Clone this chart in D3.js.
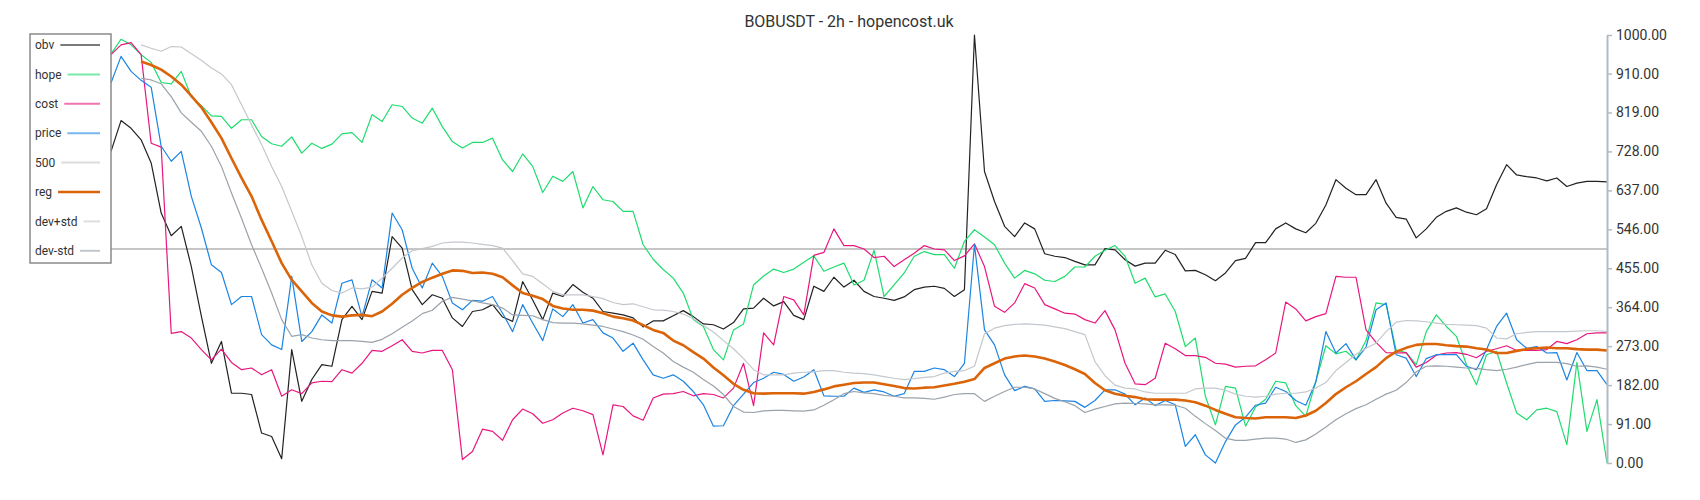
<!DOCTYPE html>
<html>
<head>
<meta charset="utf-8">
<script src="https://cdn.jsdelivr.net/npm/d3@7"></script>
<style>
    body { margin: 0; background: #fff; }
    #chart text { font-family: Roboto, "Noto Sans", sans-serif; }
</style>
</head>
<body>
<div id="chart"></div>
<script>
var title = 'BOBUSDT - 2h - hopencost.uk';

var obv = [728, 800, 782, 755, 701, 584, 531, 553, 459, 343, 233, 284, 163, 163, 160, 70, 62, 10, 265, 144, 195, 230, 226, 335, 366,
    335, 401, 397, 529, 502, 405, 370, 393, 385, 339, 319, 354, 358, 370, 341, 331, 424, 381, 335, 397, 389, 417, 399, 385, 354,
    350, 346, 339, 318, 332, 332, 344, 356, 342, 325, 323, 313, 328, 360, 362, 385, 367, 377, 345, 335, 413, 401, 434, 411, 427,
    401, 389, 385, 380, 388, 405, 411, 413, 408, 389, 405, 1000, 681, 611, 553, 529, 561, 547, 489, 483, 480, 471, 463, 463, 501,
    498, 475, 460, 467, 467, 497, 487, 449, 450, 440, 426, 444, 473, 478, 515, 515, 547, 561, 547, 538, 560, 603, 662, 642, 627,
    627, 662, 607, 574, 570, 526, 547, 574, 588, 596, 586, 580, 594, 650, 697, 673, 669, 666, 659, 666, 646, 654, 658, 658, 657];

var hope = [956, 990, 977, 954, 936, 889, 886, 915, 855, 835, 811, 810, 782, 802, 802, 763, 746, 740, 762, 724, 747, 735, 745, 769, 772,
    749, 814, 798, 837, 833, 806, 794, 829, 786, 751, 736, 749, 749, 759, 708, 681, 722, 693, 632, 670, 658, 681, 596, 646, 615,
    611, 588, 588, 510, 476, 452, 432, 397, 335, 319, 265, 241, 311, 325, 416, 437, 453, 445, 453, 469, 484, 448, 458, 467, 416,
    427, 497, 389, 416, 444, 483, 494, 487, 487, 455, 518, 545, 528, 510, 467, 432, 450, 442, 427, 424, 436, 458, 458, 483, 497,
    508, 483, 420, 432, 388, 395, 354, 272, 292, 156, 89, 179, 175, 86, 131, 149, 191, 187, 134, 109, 191, 274, 255, 261, 241,
    286, 374, 370, 264, 258, 230, 307, 346, 319, 296, 230, 183, 253, 261, 187, 117, 101, 124, 128, 120, 43, 235, 74, 148, 0];

var cost = [954, 977, 982, 954, 747, 738, 303, 307, 292, 265, 241, 266, 235, 218, 222, 206, 218, 156, 171, 162, 187, 191, 190, 218, 210,
    233, 263, 261, 274, 288, 261, 257, 263, 263, 218, 8, 27, 79, 74, 53, 101, 126, 115, 93, 101, 117, 128, 122, 113, 19,
    136, 132, 110, 100, 152, 161, 162, 167, 157, 162, 160, 152, 175, 233, 134, 304, 276, 389, 381, 346, 485, 492, 547, 508, 508,
    500, 480, 483, 459, 475, 490, 508, 500, 498, 473, 484, 512, 459, 366, 352, 374, 419, 409, 370, 360, 350, 348, 335, 327, 356,
    311, 233, 185, 183, 198, 280, 267, 251, 251, 247, 233, 231, 224, 226, 227, 241, 257, 376, 360, 332, 342, 349, 436, 434, 434,
    311, 282, 258, 257, 258, 224, 235, 252, 257, 258, 254, 246, 261, 267, 274, 263, 263, 263, 265, 284, 279, 288, 302, 304, 304];

var price = [888, 950, 915, 894, 878, 740, 705, 728, 623, 549, 463, 445, 370, 389, 389, 300, 276, 265, 436, 284, 307, 346, 327, 420, 428,
    342, 428, 409, 584, 545, 455, 409, 467, 436, 374, 358, 380, 378, 389, 350, 307, 370, 327, 286, 360, 342, 370, 327, 335, 304,
    292, 261, 280, 241, 206, 198, 206, 191, 167, 136, 86, 87, 134, 161, 188, 198, 212, 207, 191, 201, 218, 157, 156, 156, 175,
    165, 171, 166, 156, 162, 214, 214, 222, 218, 202, 233, 510, 311, 276, 206, 169, 179, 173, 144, 146, 145, 144, 130, 146, 171,
    171, 161, 136, 152, 134, 146, 136, 39, 66, 19, 0, 50, 89, 107, 135, 140, 177, 167, 146, 135, 189, 307, 257, 279, 241,
    271, 358, 374, 253, 245, 202, 244, 253, 253, 253, 226, 218, 265, 319, 350, 288, 268, 272, 257, 258, 194, 258, 216, 216, 183];

var reg = [null, null, null, 938, 930, 919, 903, 884, 858, 831, 796, 759, 712, 666, 623, 568, 518, 467, 428, 401, 374, 354, 345, 342, 345,
    346, 343, 354, 372, 393, 409, 423, 433, 442, 450, 449, 444, 445, 442, 434, 415, 397, 391, 383, 367, 361, 358, 358, 356, 350,
    342, 338, 333, 322, 311, 304, 286, 275, 259, 244, 223, 205, 185, 171, 163, 162, 163, 163, 163, 162, 166, 172, 179, 183, 187,
    188, 188, 184, 180, 175, 174, 176, 177, 181, 185, 190, 196, 222, 233, 244, 249, 251, 249, 244, 237, 229, 219, 208, 187, 170,
    162, 157, 154, 149, 148, 148, 148, 146, 142, 134, 124, 115, 107, 105, 104, 107, 107, 107, 105, 111, 122, 140, 161, 177, 191,
    208, 224, 245, 260, 269, 276, 278, 278, 275, 273, 272, 268, 265, 257, 257, 262, 266, 268, 270, 268, 268, 266, 265, 265, 263];

var devPlus = [null, null, null, 977, 969, 962, 973, 972, 956, 941, 923, 909, 884, 837, 790, 744, 693, 646, 588, 529, 463, 420, 403, 397, 409,
    407, 411, 432, 455, 479, 496, 501, 506, 514, 516, 516, 514, 511, 508, 502, 473, 442, 436, 419, 401, 393, 393, 393, 389, 384,
    375, 370, 372, 365, 358, 357, 354, 348, 337, 321, 306, 286, 267, 244, 218, 206, 206, 206, 210, 212, 213, 216, 216, 212, 210,
    209, 206, 202, 198, 195, 197, 200, 202, 210, 214, 216, 226, 302, 315, 321, 324, 325, 324, 322, 318, 314, 307, 300, 237, 204,
    182, 175, 173, 166, 163, 163, 163, 163, 173, 175, 175, 170, 161, 156, 154, 156, 161, 163, 163, 166, 175, 188, 216, 235, 254,
    268, 280, 307, 329, 333, 332, 330, 327, 324, 323, 322, 321, 315, 292, 290, 302, 305, 307, 307, 307, 307, 308, 309, 309, 307];

var devMinus = [null, null, null, 899, 895, 886, 856, 818, 796, 775, 740, 693, 631, 572, 510, 455, 397, 335, 296, 300, 292, 288, 286, 286, 286,
    284, 282, 289, 302, 317, 332, 349, 357, 378, 387, 383, 379, 374, 370, 362, 346, 345, 344, 335, 328, 327, 327, 325, 322, 319,
    313, 307, 299, 289, 272, 257, 237, 224, 212, 195, 180, 160, 132, 119, 118, 122, 123, 123, 122, 121, 124, 135, 148, 162, 167,
    164, 162, 158, 156, 152, 152, 151, 149, 154, 160, 162, 162, 144, 156, 167, 177, 177, 173, 162, 151, 143, 134, 118, 126, 132,
    138, 140, 139, 138, 136, 136, 135, 128, 109, 92, 76, 58, 53, 53, 56, 58, 58, 56, 48, 54, 68, 84, 101, 115, 127,
    136, 149, 161, 170, 188, 213, 226, 227, 226, 224, 222, 221, 218, 216, 219, 224, 230, 235, 235, 235, 232, 226, 227, 224, 219];

var level = 500;
var yTicks = [0, 91, 182, 273, 364, 455, 546, 637, 728, 819, 910, 1000];

var series = [
    { name: 'obv', values: obv, color: '#222222', width: 1.2 },
    { name: 'hope', values: hope, color: '#1fdc6e', width: 1.2 },
    { name: 'cost', values: cost, color: '#e8177f', width: 1.2 },
    { name: 'price', values: price, color: '#1c84e2', width: 1.2 },
    { name: '500', values: null, color: '#c6c6c6', width: 2 },
    { name: 'reg', values: reg, color: '#db6408', width: 2.6 },
    { name: 'dev+std', values: devPlus, color: '#c3c8cd', width: 1.2 },
    { name: 'dev-std', values: devMinus, color: '#9aa2aa', width: 1.2 },
];

drawChart('#chart');

function drawChart(selector) {
    let width = 1700;
    let height = 500;

    let svg = d3
        .select(selector)
        .append('svg')
        .attr('width', width)
        .attr('height', height);

    let x = d3.scaleLinear().domain([0, obv.length - 1]).range([111, 1607]);
    let y = d3.scaleLinear().domain([0, 1000]).range([463, 35]);

    svg.append('text')
        .attr('x', 849)
        .attr('y', 27)
        .attr('text-anchor', 'middle')
        .style('font-size', '16px')
        .attr('fill', '#333')
        .text(title);

    // level line first so the series sit over it
    svg.append('line')
        .attr('x1', x(0))
        .attr('x2', x(obv.length - 1))
        .attr('y1', y(level))
        .attr('y2', y(level))
        .attr('stroke', '#c6c6c6')
        .attr('stroke-width', 2);

    let line = d3
        .line()
        .defined(function(d) { return d != null; })
        .x(function(d, i) { return x(i); })
        .y(function(d) { return y(d); });

    series.forEach(function(s) {
        if (!s.values) return;
        svg.append('path')
            .datum(s.values)
            .attr('fill', 'none')
            .attr('stroke', s.color)
            .attr('stroke-width', s.width)
            .attr('stroke-linejoin', 'round')
            .attr('d', line);
    });

    let axis = svg
        .append('g')
        .attr('transform', 'translate(1607,0)')
        .call(
            d3.axisRight(y)
                .tickValues(yTicks)
                .tickFormat(function(d) { return d.toFixed(2); })
                .tickSize(5)
                .tickSizeOuter(0)
                .tickPadding(4)
        );
    axis.select('.domain').attr('stroke', '#b3bbc2').attr('stroke-width', 2);
    axis.selectAll('.tick line').attr('stroke', '#b3bbc2').attr('stroke-width', 1.5);
    axis.selectAll('.tick text')
        .attr('fill', '#333')
        .style('font-size', '14px');

    // legend box
    let legend = svg.append('g').attr('class', 'legend');
    legend.append('rect')
        .attr('x', 30)
        .attr('y', 34)
        .attr('width', 81)
        .attr('height', 229)
        .attr('fill', '#fff')
        .attr('stroke', '#8a8a8a')
        .attr('stroke-width', 1.5);

    let items = legend
        .selectAll('g.item')
        .data(series)
        .enter()
        .append('g')
        .attr('class', 'item')
        .attr('transform', function(d, i) {
            return 'translate(35,' + (45 + i * 29.4) + ')';
        });

    items.append('text')
        .attr('dy', '0.35em')
        .attr('fill', '#333')
        .style('font-size', '12px')
        .text(function(d) { return d.name; })
        .each(function(d) {
            d.textWidth = this.getComputedTextLength();
        });

    items.append('line')
        .attr('x1', function(d) { return d.textWidth + 6; })
        .attr('x2', 65)
        .attr('y1', 0)
        .attr('y2', 0)
        .attr('stroke', function(d) { return d.color; })
        .attr('stroke-opacity', function(d) { return d.name == 'reg' ? 1 : 0.6; })
        .attr('stroke-width', function(d) { return d.name == 'reg' ? 2.5 : 2; });
}
</script>
</body>
</html>
